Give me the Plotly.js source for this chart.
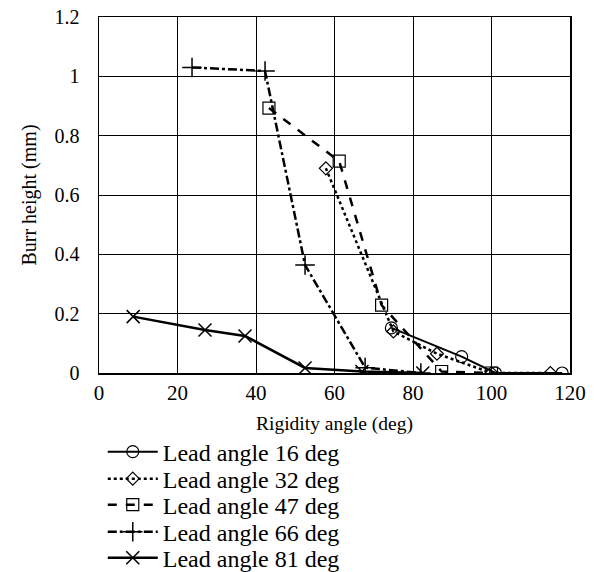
<!DOCTYPE html>
<html>
<head>
<meta charset="utf-8">
<script src="https://cdn.plot.ly/plotly-3.0.1.min.js"></script>
<style>html,body{margin:0;padding:0;background:#fff;}#chart{width:594px;height:572px;}</style>
</head>
<body>
<div id="chart"></div>
<script>
// Data
const seriesNames = ["Lead angle 16 deg", "Lead angle 32 deg", "Lead angle 47 deg", "Lead angle 66 deg", "Lead angle 81 deg"];
const x16 = [74.5, 92.4, 101, 118];
const y16 = [0.152, 0.055, 0, 0];
const x32 = [57.8, 75, 86.1, 100, 115];
const y32 = [0.69, 0.14, 0.065, 0, 0];
const x47 = [43.3, 61.2, 72.0, 87.3, 100];
const y47 = [0.893, 0.714, 0.229, 0.005, 0];
const x66 = [23.7, 42.3, 52.5, 67.8, 82];
const y66 = [1.03, 1.018, 0.364, 0.018, 0];
const x81 = [8.7, 27.0, 37.2, 52.5, 67, 82.5];
const y81 = [0.19, 0.145, 0.125, 0.017, 0.005, 0];
const xTicks = [0, 20, 40, 60, 80, 100, 120];
const yTicks = [0, 0.2, 0.4, 0.6, 0.8, 1, 1.2];
const yTickText = ["0", "0.2", "0.4", "0.6", "0.8", "1", "1.2"];

const font = "'Liberation Serif', 'Times New Roman', serif";
const legendIds = ["legend", "legend2", "legend3", "legend4", "legend5"];
const traces = [
  {x: x16, y: y16, name: seriesNames[0], legend: legendIds[0], mode: "lines+markers",
   line: {color: "#000", width: 2, dash: "solid"},
   marker: {symbol: "circle-open", size: 12, color: "#000", line: {width: 1.2, color: "#000"}}},
  {x: x32, y: y32, name: seriesNames[1], legend: legendIds[1], mode: "lines+markers",
   line: {color: "#000", width: 2.5, dash: "dot"},
   marker: {symbol: "diamond-open", size: 10, color: "#000", line: {width: 1.2, color: "#000"}}},
  {x: x47, y: y47, name: seriesNames[2], legend: legendIds[2], mode: "lines+markers",
   line: {color: "#000", width: 2.5, dash: "dash"},
   marker: {symbol: "square-open", size: 12, color: "#000", line: {width: 1.2, color: "#000"}}},
  {x: x66, y: y66, name: seriesNames[3], legend: legendIds[3], mode: "lines+markers",
   line: {color: "#000", width: 2.5, dash: "dashdot"},
   marker: {symbol: "cross-thin-open", size: 14, color: "#000", line: {width: 1.5, color: "#000"}}},
  {x: x81, y: y81, name: seriesNames[4], legend: legendIds[4], mode: "lines+markers",
   line: {color: "#000", width: 2.5, dash: "solid"},
   marker: {symbol: "x-thin-open", size: 13, color: "#000", line: {width: 1.5, color: "#000"}}}
];

function mkLegend(yPaper) {
  return {
    x: 0.008, y: yPaper, xanchor: "left", yanchor: "middle",
    orientation: "v", bgcolor: "rgba(0,0,0,0)", itemwidth: 50,
    font: {family: font, size: 24, color: "#000"}, tracegroupgap: 0
  };
}
const legendY = [-0.222, -0.298, -0.371, -0.447, -0.520];

const layout = {
  width: 594, height: 572,
  margin: {l: 99, r: 24, t: 17, b: 199, autoexpand: false},
  paper_bgcolor: "#fff", plot_bgcolor: "#fff",
  font: {family: font, color: "#000", size: 21},
  showlegend: true,
  xaxis: {
    range: [0, 120], tickvals: xTicks, ticktext: xTicks.map(String),
    showgrid: true, gridcolor: "#000", gridwidth: 1,
    showline: true, linecolor: "#000", linewidth: 1.5, mirror: true,
    zeroline: false, ticks: "", tickfont: {family: font, size: 21},
    title: {text: "Rigidity angle (deg)", font: {family: font, size: 19.5}, standoff: 12}
  },
  yaxis: {
    range: [0, 1.2], tickvals: yTicks, ticktext: yTickText,
    showgrid: true, gridcolor: "#000", gridwidth: 1,
    showline: true, linecolor: "#000", linewidth: 1.5, mirror: true,
    zeroline: false, ticks: "", tickfont: {family: font, size: 20},
    ticklabelstandoff: 14,
    title: {text: "Burr height (mm)", font: {family: font, size: 20}, standoff: 12}
  }
};
legendIds.forEach((id, i) => { layout[id] = mkLegend(legendY[i]); });

Plotly.newPlot("chart", traces, layout, {displayModeBar: false, staticPlot: true});
</script>
</body>
</html>
